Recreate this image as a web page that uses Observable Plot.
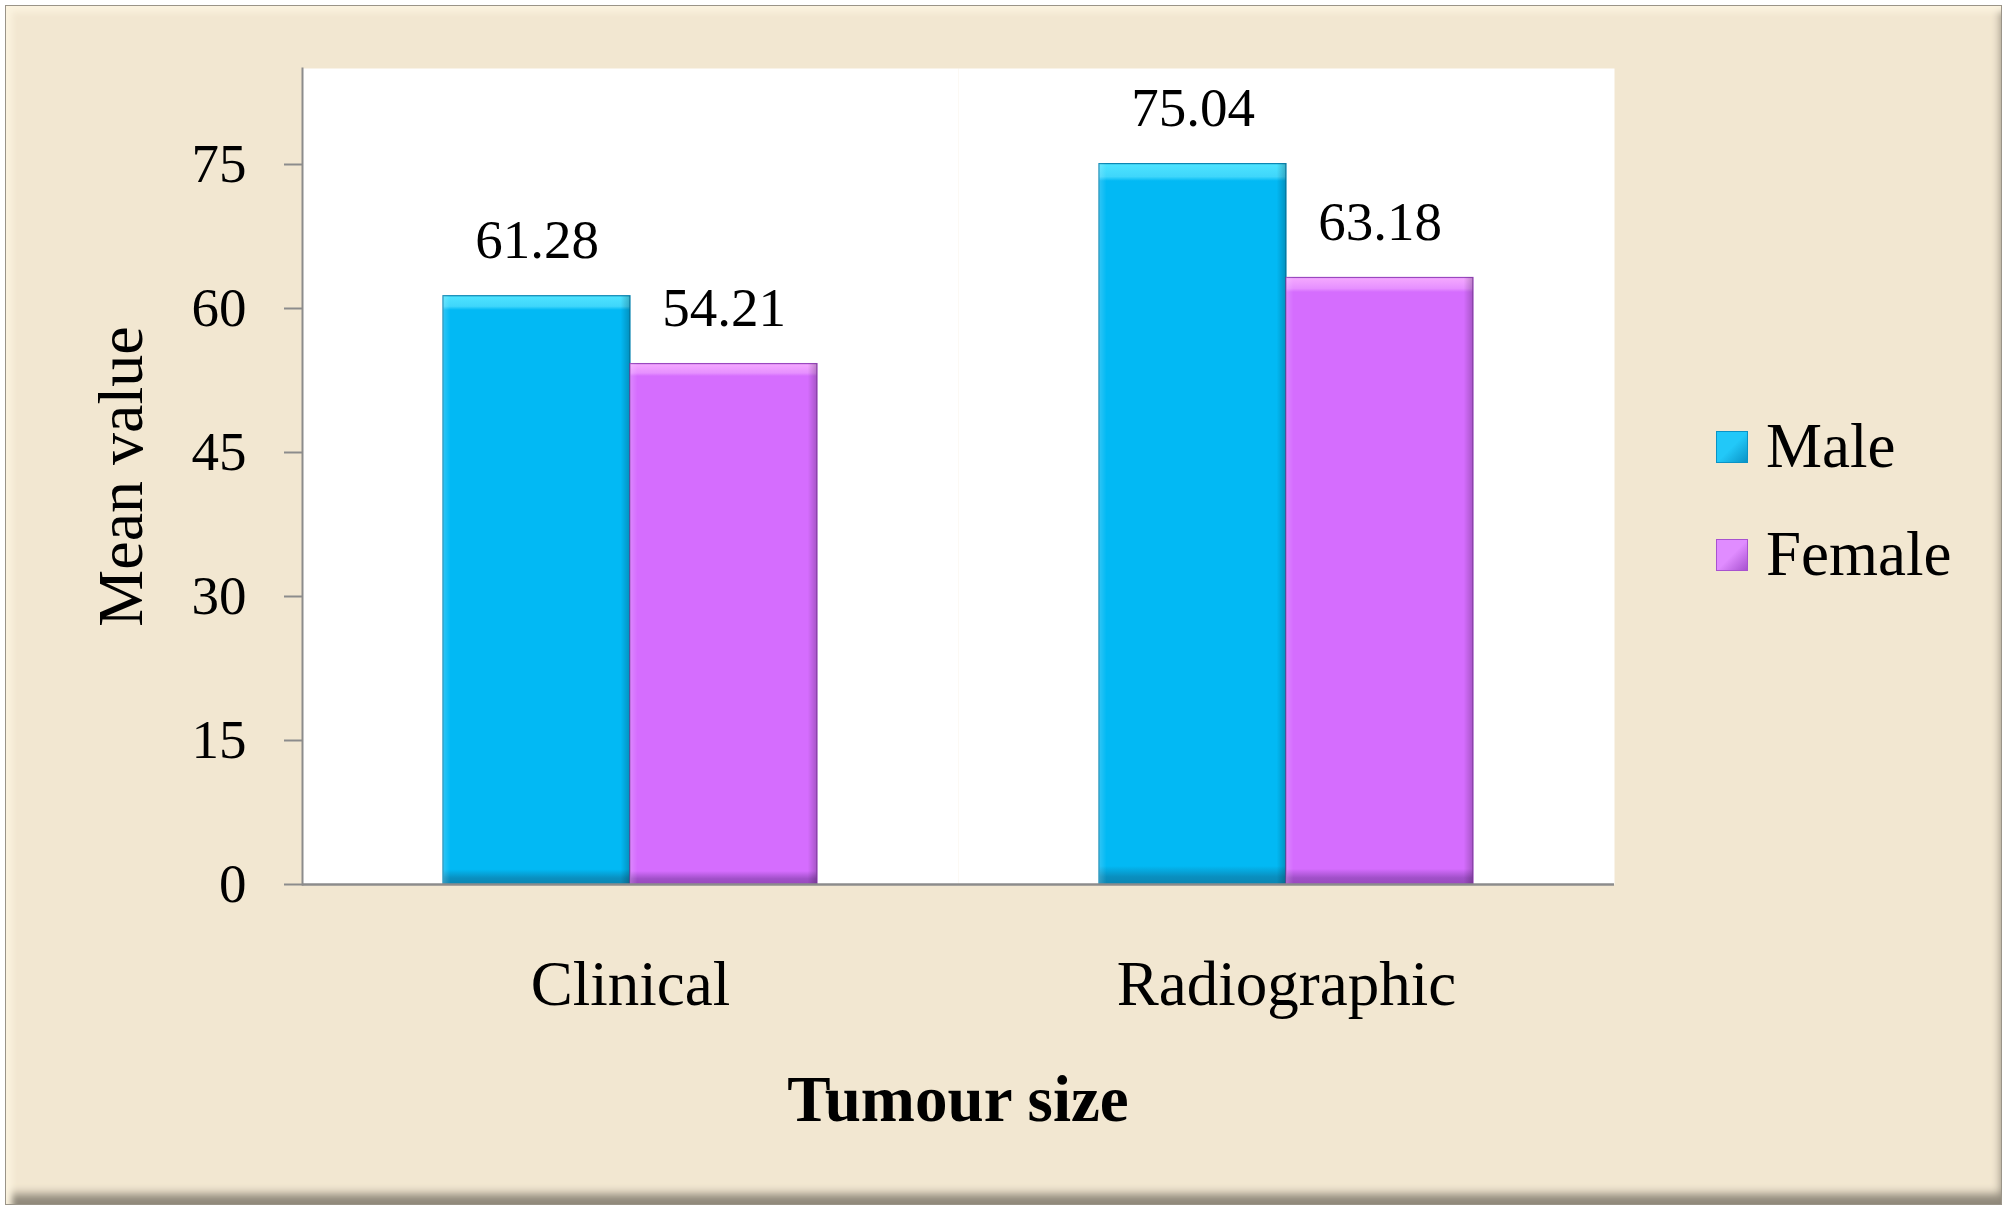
<!DOCTYPE html>
<html>
<head>
<meta charset="utf-8">
<script src="https://cdn.jsdelivr.net/npm/d3@7"></script>
<script src="https://cdn.jsdelivr.net/npm/@observablehq/plot@0.6"></script>
<style>
  html, body { margin: 0; padding: 0; background: #ffffff; }
  #wrap { position: relative; width: 2008px; height: 1211px; overflow: hidden;
          font-family: "Liberation Serif", "Times New Roman", serif; }
  #bg { position: absolute; left: 5px; top: 5px; width: 1995px; height: 1198px;
        background: #f2e7d1;
        border: 1px solid #9a9488;
        box-shadow: inset 10px 10px 6px -4px #fbf3df, inset -6px -16px 10px -6px #8f887a; }
  #chart { position: absolute; left: 0; top: 0; }
  #legend { position: absolute; left: 1716px; top: 410px; font-size: 63px; color: #000; }
  .li { position: absolute; left: 0; display: flex; align-items: center; white-space: nowrap; }
  .sw { width: 32px; height: 32px; margin-right: 18px; box-sizing: border-box; }
  #xtitle { position: absolute; left: 302px; width: 1312px; top: 1064px; text-align: center;
            font-weight: bold; font-size: 65px; line-height: 70px; color: #000; }
</style>
</head>
<body>
<div id="wrap">
  <div id="bg"></div>
  <div id="chart"></div>
  <div id="legend"></div>
  <div id="xtitle"></div>
</div>
<script>
const categories = ["Clinical", "Radiographic"];
const sexes = ["Male", "Female"];
const maleValues = [61.28, 75.04];
const femaleValues = [54.21, 63.18];
const yTicks = [0, 15, 30, 45, 60, 75];
const xTitle = "Tumour size";
const yTitle = "Mean value";

const rows = [];
categories.forEach((c, i) => {
  rows.push({category: c, sex: "Male", value: maleValues[i]});
  rows.push({category: c, sex: "Female", value: femaleValues[i]});
});

const fontFamily = "'Liberation Serif', 'Times New Roman', serif";

const plot = Plot.plot({
  width: 1700,
  height: 1060,
  marginLeft: 302,
  marginRight: 86,
  marginTop: 68,
  marginBottom: 176,
  style: {background: "transparent", fontFamily: fontFamily, color: "#000"},
  fx: {domain: categories, padding: 0, paddingInner: 0, paddingOuter: 0},
  x: {domain: sexes, paddingInner: 0, paddingOuter: 0.745, axis: null},
  y: {domain: [0, 85]},
  marks: [
    Plot.frame({fill: "white", stroke: "none"}),
    Plot.barY(rows.filter(d => d.sex === "Male"), {fx: "category", x: "sex", y: "value", fill: "url(#gMale)", stroke: "#0b86b3", strokeWidth: 1.2}),
    Plot.barY(rows.filter(d => d.sex === "Female"), {fx: "category", x: "sex", y: "value", fill: "url(#gFemale)", stroke: "#9a48bf", strokeWidth: 1.2}),
    Plot.barY(rows, {fx: "category", x: "sex", y: "value", fill: "url(#gSide)"}),
    Plot.text(rows, {fx: "category", x: "sex", y: "value", text: d => d.value.toFixed(2), lineAnchor: "bottom", dy: -38, fontSize: 55, fill: "#000"}),
    Plot.ruleY([0], {stroke: "#8c8c8c", strokeWidth: 2.5}),
    Plot.frame({anchor: "left", stroke: "#8c8c8c", strokeWidth: 2, facetAnchor: "left"}),
    Plot.axisY({ticks: yTicks, tickSize: 18, tickPadding: 38, fontSize: 55, stroke: "#8c8c8c", strokeWidth: 2, fill: "#000", label: null}),
    Plot.axisY({ticks: [], label: yTitle, labelAnchor: "center", labelArrow: "none", labelOffset: 206, fontSize: 64, fill: "#000"}),
    Plot.axisFx({anchor: "bottom", tickSize: 0, tickPadding: 76, fontSize: 63, label: null, fill: "#000"})
  ]
});

// gradient definitions for the bevelled bars
const svg = d3.select(plot);
const defs = svg.insert("defs", ":first-child");
function grad(id, stops, horizontal) {
  const g = defs.append("linearGradient").attr("id", id)
    .attr("x1", 0).attr("y1", 0).attr("x2", horizontal ? 1 : 0).attr("y2", horizontal ? 0 : 1);
  stops.forEach(([o, c, a]) => g.append("stop").attr("offset", o).attr("stop-color", c).attr("stop-opacity", a == null ? 1 : a));
}
grad("gMale", [[0, "#4fe4ff"], [0.018, "#3fd6fb"], [0.024, "#02b9f4"], [0.975, "#02b9f4"], [0.99, "#0a8fbf"], [1, "#0a86b3"]]);
grad("gFemale", [[0, "#f5aaff"], [0.018, "#e690ff"], [0.024, "#d56dfe"], [0.975, "#d56dfe"], [0.99, "#a050c8"], [1, "#9a48bf"]]);
grad("gSide", [[0, "#ffffff", 0.18], [0.04, "#ffffff", 0], [0.95, "#000000", 0], [1, "#000000", 0.22]], true);

document.getElementById("chart").appendChild(plot);

// legend
const legendColors = {Male: ["#22c8f8", "#0a93c6"], Female: ["#e08cff", "#a852d0"]};
const legend = d3.select("#legend");
sexes.forEach((s, i) => {
  const item = legend.append("div").attr("class", "li").style("top", (i * 108) + "px");
  item.append("div").attr("class", "sw")
    .style("background", `linear-gradient(135deg, ${legendColors[s][0]} 0%, ${legendColors[s][0]} 50%, ${legendColors[s][1]} 100%)`)
    .style("border", `1px solid ${legendColors[s][1]}`);
  item.append("span").text(s);
});
document.getElementById("xtitle").textContent = xTitle;
</script>
</body>
</html>
